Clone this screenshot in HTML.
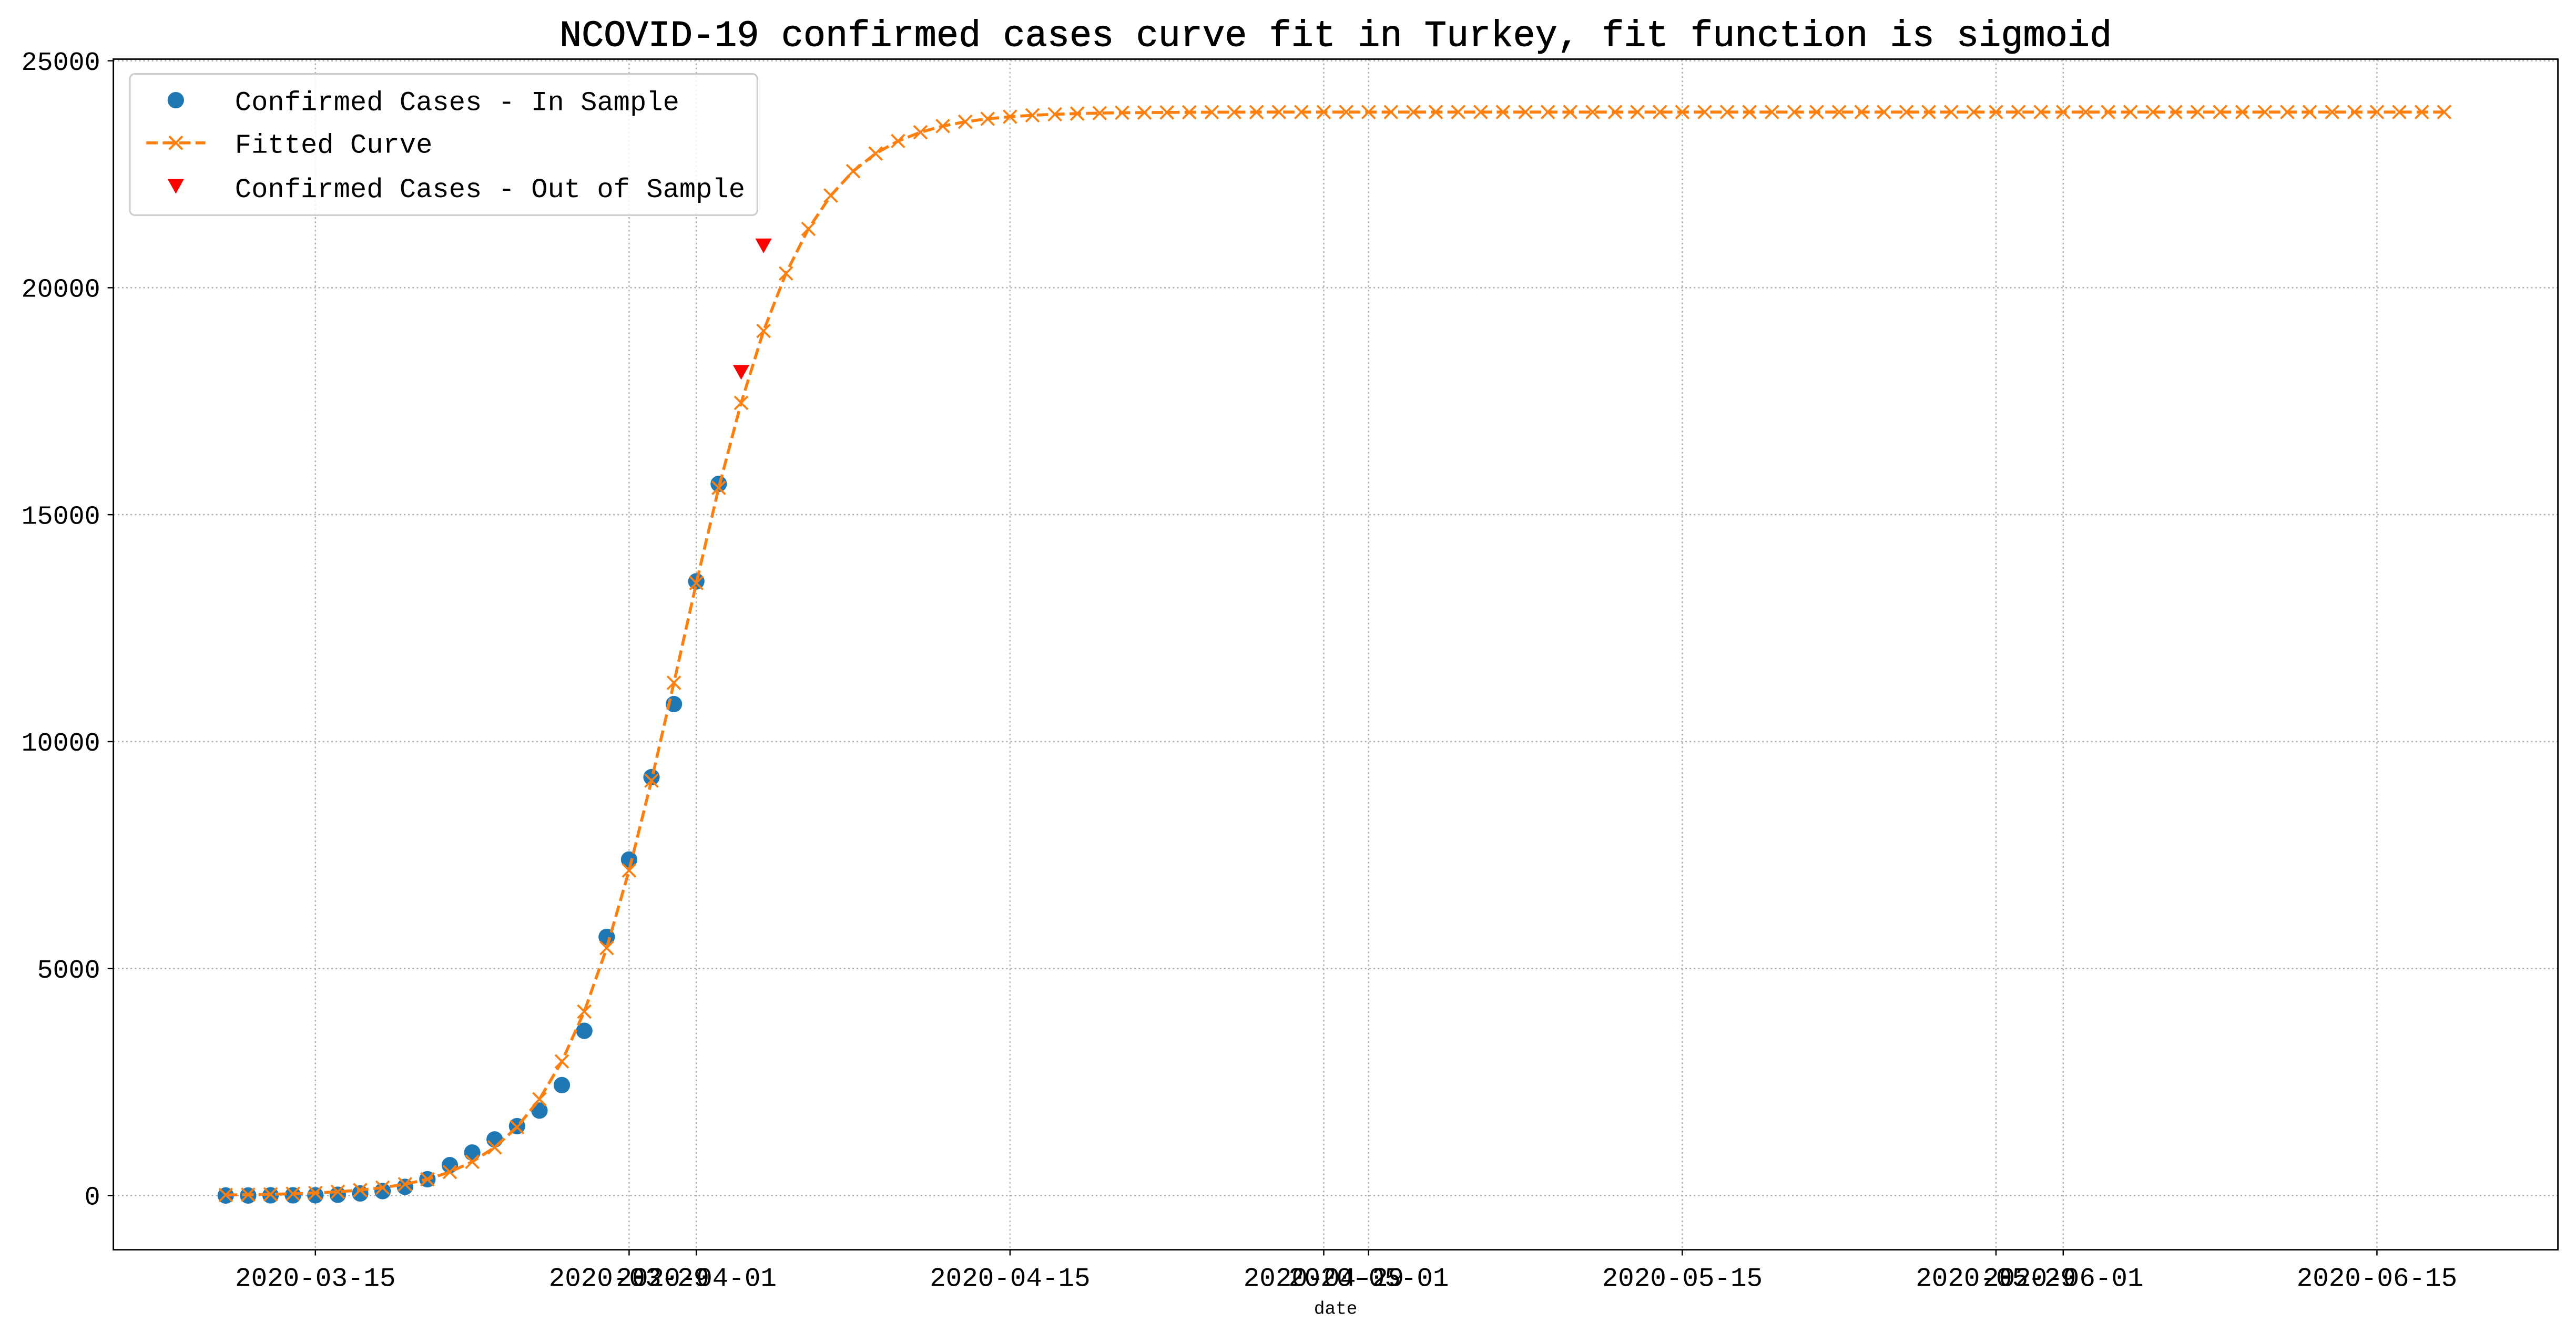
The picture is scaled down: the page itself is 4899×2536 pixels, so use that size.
<!DOCTYPE html>
<html><head><meta charset="utf-8"><style>
html,body{margin:0;padding:0;background:#fff}
svg{display:block}
text{font-family:"Liberation Mono","Noto Sans CJK SC",monospace;fill:#000}
</style></head><body>
<svg id="chart" width="4899" height="2536" viewBox="0 0 1568 811.7" xmlns="http://www.w3.org/2000/svg">
<rect width="1568" height="811.7" fill="#fff"/>
<text x="813" y="28" font-size="22.5" text-anchor="middle" stroke="#000" stroke-width="0.3">NCOVID-19 confirmed cases curve fit in Turkey, fit function is sigmoid</text>
<g id="grid"></g>
<g id="axes"></g>
<g id="series"></g>
<g id="legend">
<rect x="79" y="45" width="382" height="86" rx="3" fill="#fff" fill-opacity="0.85" stroke="#ccc"/>
<g>
<circle cx="107" cy="61" r="5" fill="#1f77b4"/>
<text x="143" y="67" font-size="16.7">Confirmed Cases - In Sample</text></g>
<g>
<line x1="89" y1="87" x2="125" y2="87" stroke="#ff7f0e" stroke-width="1.8" stroke-dasharray="7,3"/>
<path d="M103,83 L111,91 M103,91 L111,83" stroke="#ff7f0e" stroke-width="1.3"/>
<text x="143" y="93" font-size="16.7">Fitted Curve</text></g>
<g>
<path d="M102,109 L112,109 L107,118 Z" fill="#ff0000"/>
<text x="143" y="120" font-size="16.7">Confirmed Cases - Out of Sample</text></g>
</g>
<text x="813" y="800" font-size="11" text-anchor="middle">date</text>
</svg>
<script>
const inSample = [1,1,5,5,6,18,47,98,191,359,670,947,1236,1529,1872,2433,3629,5698,7402,9217,10827,13531,15679];
const outSample = [18135,20921];
const outSampleDay = [23,24];
const fitted = [13,19,27,40,57,83,120,174,250,359,519,744,1061,1508,2122,2955,4053,5453,7162,9142,11297,13494,15591,17463,19048,20315,21296,22030,22568,22956,23231,23425,23561,23656,23721,23767,23799,23821,23836,23847,23855,23859,23862,23865,23867,23868,23869,23870,23870,23870,23870,23870,23870,23870,23870,23870,23870,23870,23870,23870,23870,23870,23870,23870,23870,23870,23870,23870,23870,23870,23870,23870,23870,23870,23870,23870,23870,23870,23870,23870,23870,23870,23870,23870,23870,23870,23870,23870,23870,23870,23870,23870,23870,23870,23870,23870,23870,23870,23870,23870];
const yTicks = [0,5000,10000,15000,20000,25000];
const xTickDays = [4,18,21,35,49,51,65,79,82,96];
const xTickLabels = ["2020-03-15","2020-03-29","2020-04-01","2020-04-15","2020-04-29","2020-05-01","2020-05-15","2020-05-29","2020-06-01","2020-06-15"];

const NS="http://www.w3.org/2000/svg";
const L=69,R=1557,T=36,B=761;
const xs=d=>137.4+d*13.64;
const ys=v=>728-v*(728-37)/25000;
function mk(tag,attrs,parent){const e=document.createElementNS(NS,tag);for(const k in attrs)e.setAttribute(k,attrs[k]);parent.appendChild(e);return e;}
const grid=document.getElementById('grid'),axes=document.getElementById('axes'),ser=document.getElementById('series');

yTicks.forEach(v=>{
  const g=mk('line',{x1:L,x2:R,y1:ys(v),y2:ys(v),stroke:'#b0b0b0','stroke-width':0.8,'stroke-dasharray':'1,1.6'},grid);
  
  
  mk('line',{x1:L-3.5,x2:L,y1:ys(v),y2:ys(v),stroke:'#000','stroke-width':0.8},axes);
  const t=mk('text',{x:L-8,y:ys(v)+5.5,'font-size':16,'text-anchor':'end'},axes);
  t.textContent=v;
  
  
});
xTickDays.forEach((d,i)=>{
  const g=mk('line',{x1:xs(d),x2:xs(d),y1:T,y2:B,stroke:'#b0b0b0','stroke-width':0.8,'stroke-dasharray':'1,1.6'},grid);
  
  
  mk('line',{x1:xs(d),x2:xs(d),y1:B,y2:B+3.5,stroke:'#000','stroke-width':0.8},axes);
  const t=mk('text',{x:xs(d),y:B+22,'font-size':16.3,'text-anchor':'middle'},axes);
  t.textContent=xTickLabels[i];
  
  
});
const fr=mk('rect',{x:L,y:T,width:R-L,height:B-T,fill:'none',stroke:'#000','stroke-width':0.9},axes);



inSample.forEach((v,i)=>{
  const c=mk('circle',{cx:xs(i),cy:ys(v),r:5,fill:'#1f77b4'},ser);
  
  
});
const pts=fitted.map((v,i)=>xs(i).toFixed(2)+','+ys(v).toFixed(2)).join(' ');
const pl=mk('polyline',{points:pts,fill:'none',stroke:'#ff7f0e','stroke-width':1.8,'stroke-dasharray':'7,3'},ser);


fitted.forEach((v,i)=>{
  const x=xs(i),y=ys(v),s=4;
  const p=mk('path',{d:`M${x-s},${y-s} L${x+s},${y+s} M${x-s},${y+s} L${x+s},${y-s}`,stroke:'#ff7f0e','stroke-width':1.2},ser);
  
  
});
outSample.forEach((v,i)=>{
  const x=xs(outSampleDay[i]),y=ys(v);
  const p=mk('path',{d:`M${x-5},${y-4.5} L${x+5},${y-4.5} L${x},${y+4.5} Z`,fill:'#ff0000'},ser);
  
  
});
</script>
</body></html>
